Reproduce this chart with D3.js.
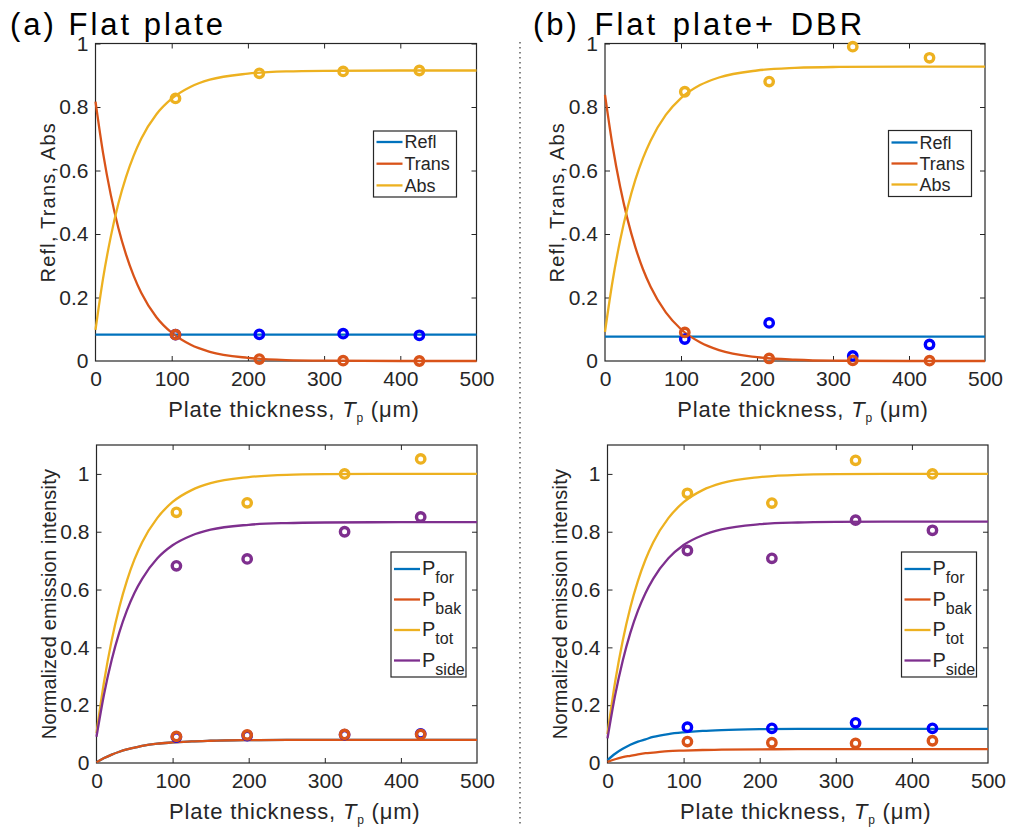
<!DOCTYPE html>
<html>
<head>
<meta charset="utf-8">
<script src="https://cdn.jsdelivr.net/npm/d3@7"></script>
<style>
  body { margin: 0; background: #fff; }
  text { font-family: "Liberation Sans", Arial, Helvetica, sans-serif; fill: #262626; }
</style>
</head>
<body>
<script>
// thickness grid (um)
var xGrid = [0, 10, 20, 30, 40, 50, 60, 80, 100, 125, 150, 200, 250, 300, 400, 500];

// (a) flat plate, top: Refl / Trans / Abs
var aReflCurve  = [0.083, 0.083, 0.083, 0.083, 0.083, 0.083, 0.083, 0.083, 0.083, 0.083, 0.083, 0.083, 0.083, 0.083, 0.083, 0.083];
var aTransCurve = [0.817, 0.654, 0.524, 0.419, 0.336, 0.269, 0.215, 0.138, 0.089, 0.051, 0.029, 0.010, 0.003, 0.001, 0.000, 0.000];
var aAbsCurve   = [0.098, 0.261, 0.391, 0.496, 0.579, 0.646, 0.700, 0.777, 0.826, 0.864, 0.886, 0.905, 0.912, 0.914, 0.915, 0.915];
var aTopMarkX   = [105, 215, 325, 425];
var aReflMark   = [0.083, 0.084, 0.086, 0.081];
var aTransMark  = [0.083, 0.006, 0.001, 0.000];
var aAbsMark    = [0.827, 0.906, 0.912, 0.915];

// (b) flat plate + DBR, top
var bReflCurve  = [0.077, 0.077, 0.077, 0.077, 0.077, 0.077, 0.077, 0.077, 0.077, 0.077, 0.077, 0.077, 0.077, 0.077, 0.077, 0.077];
var bTransCurve = [0.838, 0.677, 0.548, 0.443, 0.358, 0.289, 0.234, 0.153, 0.100, 0.059, 0.034, 0.012, 0.004, 0.001, 0.000, 0.000];
var bAbsCurve   = [0.092, 0.252, 0.381, 0.486, 0.571, 0.639, 0.694, 0.775, 0.828, 0.869, 0.893, 0.915, 0.923, 0.926, 0.927, 0.927];
var bTopMarkX   = [105, 216, 326, 427];
var bReflMark   = [0.069, 0.120, 0.016, 0.052];
var bTransMark  = [0.090, 0.008, 0.002, 0.001];
var bAbsMark    = [0.848, 0.880, 0.990, 0.955];

// (a) bottom: emission
var aForCurve  = [0.003, 0.017, 0.029, 0.039, 0.047, 0.053, 0.059, 0.067, 0.071, 0.075, 0.077, 0.079, 0.080, 0.080, 0.080, 0.080];
var aBakCurve  = [0.003, 0.017, 0.029, 0.039, 0.047, 0.053, 0.059, 0.067, 0.071, 0.075, 0.077, 0.079, 0.080, 0.080, 0.080, 0.080];
var aTotCurve  = [0.103, 0.282, 0.425, 0.539, 0.631, 0.705, 0.764, 0.848, 0.903, 0.944, 0.968, 0.989, 0.997, 0.999, 1.000, 1.000];
var aSideCurve = [0.091, 0.239, 0.357, 0.452, 0.528, 0.589, 0.637, 0.708, 0.753, 0.787, 0.807, 0.824, 0.830, 0.832, 0.833, 0.833];
var aBotMarkX  = [105, 198, 326, 426];
var aForMark   = [0.090, 0.095, 0.098, 0.101];
var aBakMark   = [0.092, 0.097, 0.099, 0.099];
var aTotMark   = [0.867, 0.900, 1.000, 1.052];
var aSideMark  = [0.682, 0.706, 0.800, 0.851];

// (b) bottom: emission
var bForCurve  = [0.010, 0.032, 0.049, 0.063, 0.074, 0.082, 0.090, 0.100, 0.106, 0.111, 0.114, 0.117, 0.118, 0.118, 0.118, 0.118];
var bBakCurve  = [0.004, 0.013, 0.020, 0.025, 0.030, 0.034, 0.036, 0.041, 0.043, 0.045, 0.046, 0.047, 0.048, 0.048, 0.048, 0.048];
var bTotCurve  = [0.100, 0.280, 0.423, 0.538, 0.630, 0.704, 0.763, 0.847, 0.902, 0.944, 0.968, 0.989, 0.997, 0.999, 1.000, 1.000];
var bSideCurve = [0.085, 0.234, 0.354, 0.450, 0.527, 0.588, 0.637, 0.708, 0.754, 0.788, 0.808, 0.826, 0.832, 0.834, 0.835, 0.835];
var bBotMarkX  = [105, 216, 326, 427];
var bForMark   = [0.124, 0.120, 0.139, 0.120];
var bBakMark   = [0.074, 0.070, 0.068, 0.077];
var bTotMark   = [0.933, 0.899, 1.047, 1.000];
var bSideMark  = [0.735, 0.708, 0.840, 0.805];

var xTicks = [0, 100, 200, 300, 400, 500];
var yTicks = [0, 0.2, 0.4, 0.6, 0.8, 1];
var topLegend = ["Refl", "Trans", "Abs"];
var botLegend = [["P", "for"], ["P", "bak"], ["P", "tot"], ["P", "side"]];

// matlab default line colours, marker blue is pure
var cBlue = "#0072BD", cOrange = "#D95319", cYellow = "#EDB120", cPurple = "#7E2F8E";
var axisColor = "#262626";

var svg = d3.select("body").append("svg")
    .attr("width", 1011)
    .attr("height", 831);

// titles
svg.append("text").attr("x", 10).attr("y", 35)
    .style("font-size", "31px").style("letter-spacing", "3px").style("fill", "#000")
    .text("(a) Flat plate");
svg.append("text").attr("x", 533).attr("y", 35)
    .style("font-size", "31px").style("letter-spacing", "3px").style("word-spacing", "3px").style("fill", "#000")
    .text("(b) Flat plate+ DBR");

// dotted separator
svg.append("line")
    .attr("x1", 520).attr("x2", 520).attr("y1", 42).attr("y2", 824)
    .attr("stroke", "#333").attr("stroke-width", 1.2)
    .attr("stroke-dasharray", "1.5,3.5");

function drawPanel(p) {
  var x = d3.scaleLinear().domain([0, 500]).range([p.left, p.right]);
  var y = d3.scaleLinear().domain(p.yDomain).range([p.bottom, p.top]);

  var g = svg.append("g");

  g.append("rect")
      .attr("x", p.left).attr("y", p.top)
      .attr("width", p.right - p.left).attr("height", p.bottom - p.top)
      .attr("fill", "#fff");

  // box with inward ticks on all four sides
  var ax = g.append("g").attr("transform", "translate(0," + p.bottom + ")")
      .call(d3.axisBottom(x).tickValues(xTicks).tickSizeInner(-5).tickSizeOuter(0).tickPadding(10).tickFormat(d3.format("d")));
  var axT = g.append("g").attr("transform", "translate(0," + p.top + ")")
      .call(d3.axisTop(x).tickValues(xTicks).tickSizeInner(-5).tickSizeOuter(0).tickFormat(""));
  var ay = g.append("g").attr("transform", "translate(" + p.left + ",0)")
      .call(d3.axisLeft(y).tickValues(yTicks).tickSizeInner(-5).tickSizeOuter(0).tickPadding(7).tickFormat(d3.format("~g")));
  var ayR = g.append("g").attr("transform", "translate(" + p.right + ",0)")
      .call(d3.axisRight(y).tickValues(yTicks).tickSizeInner(-5).tickSizeOuter(0).tickFormat(""));

  [ax, axT, ay, ayR].forEach(function(a) {
    a.select(".domain").remove();
    a.selectAll("line").attr("stroke", axisColor).attr("stroke-width", 1);
    a.selectAll("text").style("font-size", "21px").style("font-family", "Liberation Sans, Arial, sans-serif").attr("fill", axisColor);
  });
  // no tick marks sitting on the corners
  [ax, axT].forEach(function(a) {
    a.selectAll(".tick").filter(function(d) { return d === 0 || d === 500; }).select("line").remove();
  });
  [ay, ayR].forEach(function(a) {
    a.selectAll(".tick").filter(function(d) { return d === 0; }).select("line").remove();
  });

  g.append("rect")
      .attr("x", p.left).attr("y", p.top)
      .attr("width", p.right - p.left).attr("height", p.bottom - p.top)
      .attr("fill", "none").attr("stroke", axisColor).attr("stroke-width", 1.2);

  // curves
  var line = d3.line()
      .x(function(d) { return x(d[0]); })
      .y(function(d) { return y(d[1]); })
      .curve(d3.curveMonotoneX);

  p.series.forEach(function(s) {
    g.append("path")
        .datum(xGrid.map(function(t, i) { return [t, s.curve[i]]; }))
        .attr("d", line)
        .attr("fill", "none")
        .attr("stroke", s.color)
        .attr("stroke-width", 2.3);
  });

  // measured points
  p.series.forEach(function(s) {
    g.selectAll(null)
        .data(p.markX.map(function(t, i) { return [t, s.mark[i]]; }))
      .enter().append("circle")
        .attr("cx", function(d) { return x(d[0]); })
        .attr("cy", function(d) { return y(d[1]); })
        .attr("r", 4.2)
        .attr("fill", "none")
        .attr("stroke", s.markColor || s.color)
        .attr("stroke-width", 3.4);
  });

  // x label
  var xl = g.append("text")
      .attr("x", (p.left + p.right) / 2 + 8)
      .attr("y", p.bottom + 56)
      .style("text-anchor", "middle")
      .style("font-size", "22px")
      .style("letter-spacing", "0.8px");
  xl.append("tspan").text("Plate thickness, ");
  xl.append("tspan").style("font-style", "italic").text("T");
  xl.append("tspan").attr("dy", 5).style("font-size", "12px").text("p");
  xl.append("tspan").attr("dy", -5).text(" (\u03BCm)");

  // y label
  g.append("text")
      .attr("transform", "translate(" + (p.left - 41) + "," + ((p.top + p.bottom) / 2) + ") rotate(-90)")
      .style("text-anchor", "middle")
      .style("font-size", "20px")
      .style("letter-spacing", p.yLabelSpacing)
      .text(p.yLabel);

  // legend
  var L = p.legend;
  g.append("rect")
      .attr("x", L.x).attr("y", L.y)
      .attr("width", L.w).attr("height", L.h)
      .attr("fill", "#fff")
      .attr("stroke", axisColor).attr("stroke-width", 1.2);

  p.series.forEach(function(s, i) {
    var yy = L.y + L.first + i * L.step;
    g.append("line")
        .attr("x1", L.x + 3).attr("x2", L.x + 29)
        .attr("y1", yy).attr("y2", yy)
        .attr("stroke", s.color).attr("stroke-width", 2.3);
    var t = g.append("text")
        .attr("x", L.x + 31).attr("y", yy)
        .attr("dy", "0.35em")
        .style("font-size", "18px");
    if (typeof s.name === "string") {
      t.text(s.name);
    } else {
      t.append("tspan").style("font-size", "20px").text(s.name[0]);
      t.append("tspan").attr("dy", 8).style("font-size", "16px").text(s.name[1]);
    }
  });
}

drawPanel({
  left: 95.5, right: 476.5, top: 43.5, bottom: 361, yDomain: [0, 1],
  yLabel: "Refl, Trans, Abs", yLabelSpacing: "1.2px", markX: aTopMarkX,
  legend: { x: 373.5, y: 131, w: 83, h: 66, first: 11, step: 21.7 },
  series: [
    { name: topLegend[0], color: cBlue, markColor: "#0000FF", curve: aReflCurve, mark: aReflMark },
    { name: topLegend[1], color: cOrange, curve: aTransCurve, mark: aTransMark },
    { name: topLegend[2], color: cYellow, curve: aAbsCurve, mark: aAbsMark }
  ]
});

drawPanel({
  left: 605, right: 985, top: 43.5, bottom: 361, yDomain: [0, 1],
  yLabel: "Refl, Trans, Abs", yLabelSpacing: "1.2px", markX: bTopMarkX,
  legend: { x: 888.5, y: 130.5, w: 83, h: 66, first: 12, step: 21 },
  series: [
    { name: topLegend[0], color: cBlue, markColor: "#0000FF", curve: bReflCurve, mark: bReflMark },
    { name: topLegend[1], color: cOrange, curve: bTransCurve, mark: bTransMark },
    { name: topLegend[2], color: cYellow, curve: bAbsCurve, mark: bAbsMark }
  ]
});

drawPanel({
  left: 96.5, right: 477, top: 445, bottom: 763, yDomain: [0, 1.1],
  yLabel: "Normalized emission intensity", yLabelSpacing: "0.2px", markX: aBotMarkX,
  legend: { x: 391, y: 552, w: 75, h: 125, first: 17, step: 30.5 },
  series: [
    { name: botLegend[0], color: cBlue, markColor: "#0000FF", curve: aForCurve, mark: aForMark },
    { name: botLegend[1], color: cOrange, curve: aBakCurve, mark: aBakMark },
    { name: botLegend[2], color: cYellow, curve: aTotCurve, mark: aTotMark },
    { name: botLegend[3], color: cPurple, curve: aSideCurve, mark: aSideMark }
  ]
});

drawPanel({
  left: 607.5, right: 988, top: 445, bottom: 763, yDomain: [0, 1.1],
  yLabel: "Normalized emission intensity", yLabelSpacing: "0.2px", markX: bBotMarkX,
  legend: { x: 901.5, y: 552, w: 75, h: 125, first: 17, step: 30.5 },
  series: [
    { name: botLegend[0], color: cBlue, markColor: "#0000FF", curve: bForCurve, mark: bForMark },
    { name: botLegend[1], color: cOrange, curve: bBakCurve, mark: bBakMark },
    { name: botLegend[2], color: cYellow, curve: bTotCurve, mark: bTotMark },
    { name: botLegend[3], color: cPurple, curve: bSideCurve, mark: bSideMark }
  ]
});
</script>
</body>
</html>
